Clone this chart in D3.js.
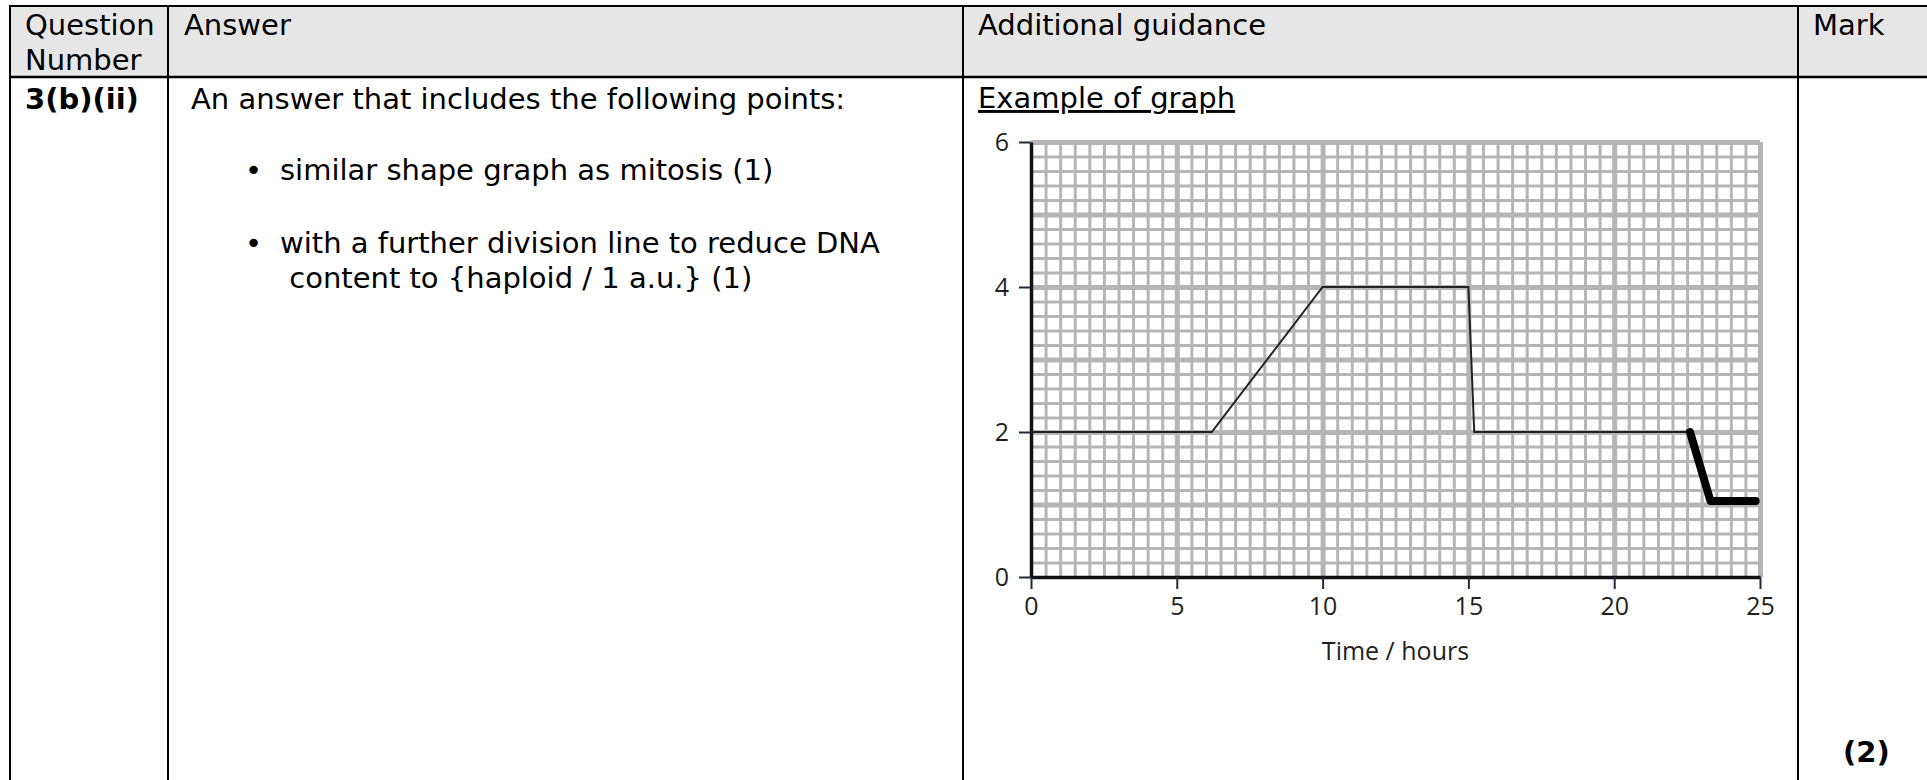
<!DOCTYPE html>
<html>
<head>
<meta charset="utf-8">
<script src="https://cdn.jsdelivr.net/npm/d3@7"></script>
<style>
	html, body { margin: 0; padding: 0; background: #fff; }
	svg { display: block; }
	.cell { font-family: 'DejaVu Sans', Verdana, sans-serif; font-size: 29px; fill: #000; }
	.bold { font-weight: bold; }
	.tick text, .axis-title { font-family: 'Open Sans', sans-serif; font-size: 25px; fill: #231f20; }
</style>
</head>
<body>
<svg id="chart" width="1927" height="780"></svg>
<script>
// table text
const headers = ['Question', 'Answer', 'Additional guidance', 'Mark'];
const questionNumber = '3(b)(ii)';
const answerIntro = 'An answer that includes the following points:';
const answerPoints = [
	['similar shape graph as mitosis (1)'],
	['with a further division line to reduce DNA', ' content to {haploid / 1 a.u.} (1)']
];
const guidanceTitle = 'Example of graph';
const markText = '(2)';

// graph values
const xTicks = [0, 5, 10, 15, 20, 25];
const yTicks = [0, 2, 4, 6];
const xMajorGrid = [5, 10, 15, 20, 25];
const yMajorGrid = [1, 2, 3, 4, 5, 6];
const mitosisTime = [0, 6.2, 10, 15, 15.2, 22.6];
const mitosisDNA = [2, 2, 4, 4, 2, 2];
const meiosisTime = [22.6, 23.3, 24.85];
const meiosisDNA = [2, 1.05, 1.05];
const xLabel = 'Time / hours';

const svg = d3.select('#chart');
const width = +svg.attr('width');
const height = +svg.attr('height');

// table frame
const colX = [10, 168, 963, 1798];
const tableTop = 6;
const headBottom = 77;

svg.append('rect')
	.attr('x', colX[0])
	.attr('y', tableTop)
	.attr('width', width - colX[0])
	.attr('height', headBottom - tableTop)
	.attr('fill', '#e6e6e6');

svg.append('line')
	.attr('x1', colX[0] - 1).attr('x2', width)
	.attr('y1', tableTop).attr('y2', tableTop)
	.attr('stroke', '#000').attr('stroke-width', 2);

svg.append('line')
	.attr('x1', colX[0]).attr('x2', width)
	.attr('y1', headBottom).attr('y2', headBottom)
	.attr('stroke', '#000').attr('stroke-width', 2.5);

svg.selectAll('line.col')
	.data(colX)
	.enter().append('line')
	.attr('class', 'col')
	.attr('x1', (d) => d).attr('x2', (d) => d)
	.attr('y1', tableTop).attr('y2', height)
	.attr('stroke', '#000').attr('stroke-width', 2);

// header text
svg.append('text').attr('class', 'cell').attr('x', 25).attr('y', 35).text(headers[0]);
svg.append('text').attr('class', 'cell').attr('x', 25).attr('y', 70).text('Number');
svg.append('text').attr('class', 'cell').attr('x', 184).attr('y', 35).text(headers[1]);
svg.append('text').attr('class', 'cell').attr('x', 978).attr('y', 35).text(headers[2]);
svg.append('text').attr('class', 'cell').attr('x', 1813).attr('y', 35).text(headers[3]);

// body text
svg.append('text').attr('class', 'cell bold').attr('x', 25).attr('y', 109).text(questionNumber);
svg.append('text').attr('class', 'cell').attr('x', 191).attr('y', 109).text(answerIntro);

const pointY = [180, 253];
answerPoints.forEach((lines, i) => {
	svg.append('text')
		.attr('class', 'cell')
		.attr('x', 245)
		.attr('y', pointY[i])
		.text('\u2022');
	lines.forEach((line, j) => {
		svg.append('text')
			.attr('class', 'cell')
			.attr('x', 280)
			.attr('y', pointY[i] + j * 35)
			.style('white-space', 'pre')
			.text(line);
	});
});

svg.append('text')
	.attr('class', 'cell')
	.attr('x', 978)
	.attr('y', 108)
	.attr('text-decoration', 'underline')
	.text(guidanceTitle);

svg.append('text').attr('class', 'cell bold').attr('x', 1843).attr('y', 762).text(markText);

// graph
const xScale = d3.scaleLinear().domain([0, 25]).range([1031, 1760]);
const yScale = d3.scaleLinear().domain([0, 6]).range([577, 142]);
const plotW = xScale(25) - xScale(0);
const plotH = yScale(0) - yScale(6);
const gridColor = '#b5b5b5';

const grid = svg.append('g');

function drawGrid(axis, transform, strokeWidth) {
	const g = grid.append('g')
		.attr('transform', transform)
		.call(axis);
	g.select('.domain').remove();
	g.selectAll('.tick line')
		.attr('stroke', gridColor)
		.attr('stroke-width', strokeWidth);
	g.selectAll('.tick text').remove();
}

drawGrid(d3.axisBottom(xScale).tickValues(d3.range(0, 50.5, 1).map((d) => d / 2)).tickSize(-plotH).tickFormat(''),
	`translate(0,${yScale(0)})`, 3);
drawGrid(d3.axisLeft(yScale).tickValues(d3.range(0, 30.5, 1).map((d) => d / 5)).tickSize(-plotW).tickFormat(''),
	`translate(${xScale(0)},0)`, 3);
drawGrid(d3.axisBottom(xScale).tickValues(xMajorGrid).tickSize(-plotH).tickFormat(''),
	`translate(0,${yScale(0)})`, 5);
drawGrid(d3.axisLeft(yScale).tickValues(yMajorGrid).tickSize(-plotW).tickFormat(''),
	`translate(${xScale(0)},0)`, 5);

// axes
const xAxis = svg.append('g')
	.attr('transform', `translate(0,${yScale(0)})`)
	.call(d3.axisBottom(xScale).tickValues(xTicks).tickFormat(d3.format('d'))
		.tickSize(12).tickSizeOuter(0).tickPadding(8));

const yAxis = svg.append('g')
	.attr('transform', `translate(${xScale(0)},0)`)
	.call(d3.axisLeft(yScale).tickValues(yTicks).tickFormat(d3.format('d'))
		.tickSize(12).tickSizeOuter(0).tickPadding(10));

[xAxis, yAxis].forEach((g) => {
	g.attr('font-family', null).attr('font-size', null);
	g.select('.domain').attr('stroke', '#111').attr('stroke-width', 3.5);
	g.selectAll('.tick line').attr('stroke', '#1f2a3a').attr('stroke-width', 2);
});

svg.append('text')
	.attr('class', 'axis-title')
	.attr('x', (xScale(0) + xScale(25)) / 2)
	.attr('y', 660)
	.attr('text-anchor', 'middle')
	.text(xLabel);

// lines
const line = d3.line()
	.x((d) => xScale(d[0]))
	.y((d) => yScale(d[1]));

svg.append('path')
	.attr('d', line(d3.zip(mitosisTime, mitosisDNA)))
	.attr('fill', 'none')
	.attr('stroke', '#222')
	.attr('stroke-width', 2);

svg.append('path')
	.attr('d', line(d3.zip(meiosisTime, meiosisDNA)))
	.attr('fill', 'none')
	.attr('stroke', '#000')
	.attr('stroke-width', 8)
	.attr('stroke-linecap', 'round')
	.attr('stroke-linejoin', 'round');
</script>
</body>
</html>
